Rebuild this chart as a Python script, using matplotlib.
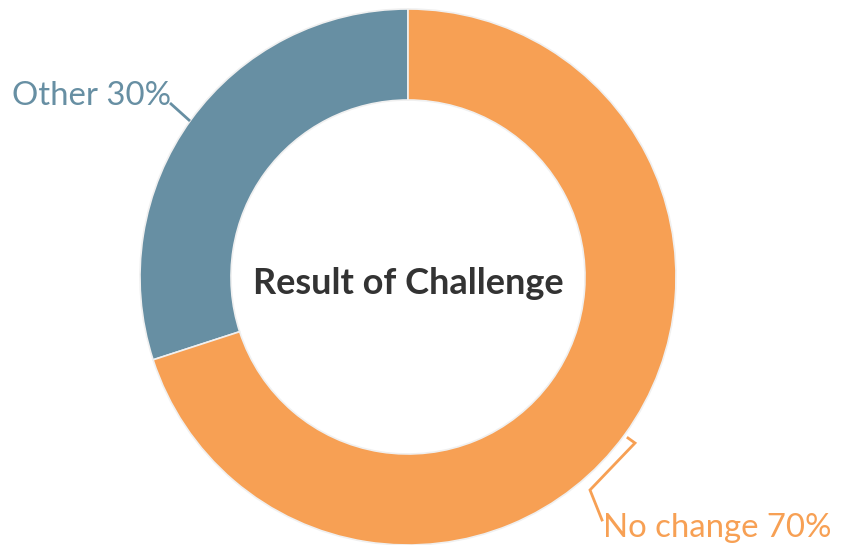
import matplotlib
matplotlib.use("Agg")
import matplotlib.pyplot as plt

categories = ["Other", "No change"]
values = [30, 70]
colors = ["#678FA3", "#F7A054"]
title = "Result of Challenge"

W, H = 848, 545
fig = plt.figure(figsize=(W / 100, H / 100), dpi=100)
ax = fig.add_axes([0, 0, 1, 1])

cx, cy = 408, H - 277
R, r_in = 268, 177
ax.pie(values, colors=colors, startangle=90, counterclock=True,
       radius=R, center=(cx, cy),
       wedgeprops=dict(width=R - r_in, edgecolor="#f0f0f0", linewidth=1.2))
ax.set_xlim(0, W)
ax.set_ylim(0, H)
ax.set_aspect("equal")
ax.axis("off")

def Y(y):
    return H - y

# center title
ax.text(cx, Y(283), title, ha="center", va="center", fontsize=26,
        fontweight="bold", color="#333333", family=["Lato", "DejaVu Sans"])

# Other label
ax.plot([170, 190], [Y(103), Y(121)], color=colors[0], lw=2, solid_capstyle="butt")
ax.text(12, Y(105), f"{categories[0]} {values[0]}%", ha="left", va="baseline",
        fontsize=23.7, color=colors[0], family=["Lato", "DejaVu Sans"])

# No change label
ax.plot([628, 635, 590, 602], [Y(438), Y(443), Y(490), Y(520)], color=colors[1],
        lw=2, solid_joinstyle="miter")
ax.text(603, Y(537), f"{categories[1]} {values[1]}%", ha="left", va="baseline",
        fontsize=23.7, color=colors[1], family=["Lato", "DejaVu Sans"])

fig.savefig("out.png", dpi=100)
